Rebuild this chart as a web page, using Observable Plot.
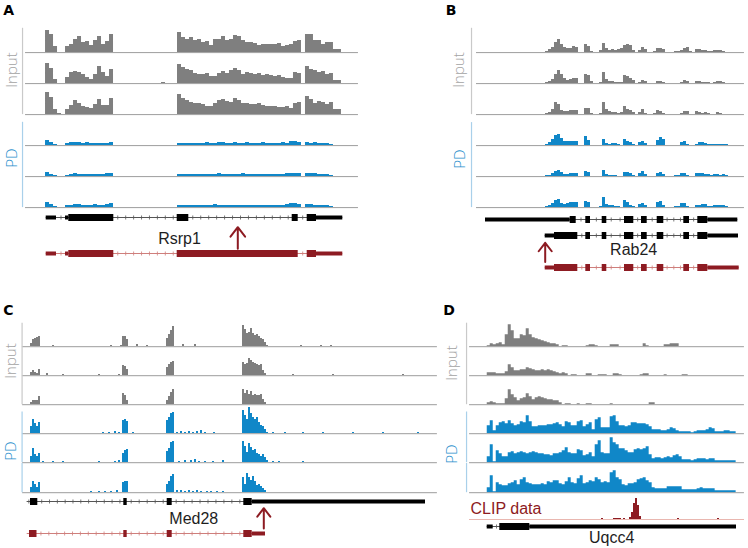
<!DOCTYPE html>
<html><head><meta charset="utf-8">
<script src="https://cdn.jsdelivr.net/npm/d3@7"></script>
<script src="https://cdn.jsdelivr.net/npm/@observablehq/plot@0.6"></script>
<style>
html,body{margin:0;padding:0;background:#fff}
#fig{position:relative;width:748px;height:548px;overflow:hidden;background:#fff}
.box{position:absolute}
.box svg{display:block;overflow:visible}
.letter{position:absolute;font:bold 14px "DejaVu Sans",sans-serif;line-height:14px;color:#000}
.vlab{position:absolute;font-family:"Open Sans",sans-serif;font-weight:300;font-size:15px;line-height:12px;white-space:nowrap;transform:translate(-50%,-50%) rotate(-90deg)}
</style></head><body><div id="fig"></div>
<script>
// ================= DATA =================
// ---- Panel A (Rsrp1): coverage, 4-unit bins starting at position 0 ----
const aInput1 = [22,18,6,0,0,6,8,13,16,10,11,7,12,16,8,11,18,0, 0,0,0,0,0,0,0,0,0,0,0,0,0,0,0, 20,15,13,15,12,13,10,11,7,13,13,16,12,13,17,16,12,10,10,9,7,8,8,8,8,9,6,7,8,11,12, 0, 18,18,12,12,8,10,10,3,3,0];
const aInput2 = [20,15,4,0,0,6,11,12,11,9,6,4,9,17,11,7,14,0, 0,0,0,0,0,0,0,0,0,0,0,1,0,0,0, 19,16,14,13,10,9,9,10,7,7,10,12,10,13,15,13,9,11,10,9,10,8,9,8,7,8,6,5,5,11,10, 0, 17,14,13,11,12,9,10,3,3,0];
const aInput3 = [22,17,5,1,0,5,9,14,11,8,7,6,10,15,9,9,16,0, 0,0,0,0,0,0,0,0,0,0,0,0,0,0,0, 20,16,14,12,11,11,10,8,8,11,14,15,13,12,16,14,11,11,10,10,11,9,8,8,8,7,7,8,6,11,12, 0, 18,15,11,13,12,10,12,5,5,0];
const aPD1 = [5,3,1,0,0,2,3,3,3,2,3,2,2,2,2,2,3,0, 0,0,0,0,0,0,0,0,0,0,0,0,0,0,0, 2,2,2,2,2,2,2,3,2,2,3,3,2,2,3,2,2,3,2,2,2,3,2,2,2,2,3,2,4,4,3, 0, 3,2,3,2,2,2,1,0,0,0];
const aPD2 = [4,2,1,0,0,1,2,3,2,2,2,2,2,2,2,3,3,0, 0,0,0,0,0,0,0,0,0,0,0,0,0,0,0, 2,2,2,2,2,2,2,2,2,2,3,2,2,2,2,2,3,2,2,2,2,2,2,2,2,2,2,3,3,3,3, 0, 3,3,3,2,2,2,1,0,0,0];
const aPD3 = [5,3,1,0,0,2,2,3,3,2,2,2,3,2,2,3,4,0, 0,0,0,0,0,0,0,0,0,0,0,0,0,0,0, 2,2,2,2,2,2,2,2,2,3,2,2,2,2,2,2,2,2,2,2,2,2,2,2,2,2,2,3,4,4,3, 0, 3,3,2,2,2,2,1,0,0,0];
const aTranscripts = [{row:"ref",start:0.7,end:297.3},{row:"pd",start:0.7,end:297.3}];
const aExons = [
  {row:"ref",start:0.7,end:11,type:"utr"},{row:"ref",start:20,end:23.3,type:"utr"},{row:"ref",start:23.3,end:68.3,type:"cds"},
  {row:"ref",start:131.7,end:143.3,type:"cds"},{row:"ref",start:246.7,end:252.7,type:"cds"},{row:"ref",start:261.7,end:271,type:"cds"},
  {row:"ref",start:271,end:297.3,type:"utr"},
  {row:"pd",start:0.7,end:11,type:"utr"},{row:"pd",start:20,end:23.3,type:"utr"},{row:"pd",start:23.3,end:68.3,type:"cds"},
  {row:"pd",start:131.7,end:252.7,type:"cds"},{row:"pd",start:261.7,end:271,type:"cds"},{row:"pd",start:271,end:297.3,type:"utr"}];
const aNames = [{name:"Rsrp1",x:134,row:"name"}];
const aArrows = [{x:192.3,from:"pd",to:"ref"}];

// ---- Panel B (Rab24): coverage, 3-unit bins starting at position 0 ----
const bInput1 = [1,3,5,10,13,8,5,4,4,6,5,0,0,8,6,1,0,0,2,9,4,2,3,2,3,4,7,8,7,2,0,2,5,3,0,0,1,4,4,3,0,0,0,1,1,2,4,5,1,0,3,3,2,2,1,1,2,2,2,1,0];
const bInput2 = [1,2,4,9,13,9,5,3,4,5,5,0,0,9,8,2,0,0,1,11,4,2,2,1,1,1,8,7,5,3,0,1,3,2,0,0,0,2,2,1,0,0,0,0,0,1,3,2,0,0,2,2,1,1,1,0,1,2,2,1,0];
const bInput3 = [1,2,5,12,10,4,3,3,4,4,4,0,0,6,6,1,0,0,1,12,5,3,2,2,1,2,8,5,4,2,0,2,5,1,0,0,1,4,3,1,0,0,0,0,0,1,3,3,0,0,3,2,1,2,1,0,0,2,1,0,0];
const bPD1 = [1,3,6,10,11,7,4,4,4,4,4,0,0,9,5,0,0,0,0,6,2,1,2,2,1,0,6,4,3,1,0,3,4,2,0,0,0,5,8,6,0,0,0,0,0,3,4,1,0,0,1,3,3,2,1,1,1,1,1,1,1];
const bPD2 = [1,1,3,5,6,4,2,2,3,3,3,0,0,5,4,0,0,0,0,6,2,1,1,1,0,0,4,4,3,1,0,3,5,2,0,0,0,3,4,2,0,0,0,1,1,3,3,1,0,0,3,3,3,2,2,1,2,2,1,2,1];
const bPD3 = [1,2,4,7,8,4,3,4,5,5,5,0,0,6,5,0,0,0,1,10,3,2,2,1,1,0,7,5,2,1,0,3,4,2,0,0,0,5,6,2,0,0,0,1,1,4,4,1,0,0,2,2,3,3,1,1,2,2,2,2,1];
const bTranscripts = [{row:"iso1",start:-60,end:192.3},{row:"iso2",start:-0.3,end:193},{row:"pd",start:-0.3,end:193.7}];
const bSharedCds = [[40.3,45],[56.7,61.3],[79,88.3],[96,101.7],[111.7,118.3],[138.3,144],[152.3,162.3]];
const bExons = [
  {row:"iso1",start:-60,end:24.7,type:"utr"},{row:"iso1",start:24.7,end:30.7,type:"cds"},{row:"iso1",start:162.3,end:192.3,type:"utr"},
  {row:"iso2",start:-0.3,end:9,type:"utr"},{row:"iso2",start:9,end:32.3,type:"cds"},{row:"iso2",start:162.3,end:193,type:"utr"},
  {row:"pd",start:-0.3,end:9,type:"utr"},{row:"pd",start:9,end:32.3,type:"cds"},{row:"pd",start:162.3,end:193.7,type:"utr"},
  ...["iso1","iso2","pd"].flatMap(row => bSharedCds.map(([start,end]) => ({row,start,end,type:"cds"})))];
const bNames = [{name:"Rab24",x:88.2,row:"name"}];
const bArrows = [{x:-0.3,from:"pd",to:"iso2"}];

// ---- Panel C (Med28): sparse coverage [position, height], 2-unit bins ----
const cInput1 = [[8,3],[10,7],[12,8],[14,9],[16,10],[30,1],[88,1],[98,1],[100,10],[102,10],[104,7],[114,2],[124,1],[144,8],[146,12],[148,16],[150,20],[160,2],[172,2],[220,21],[222,17],[224,13],[226,14],[228,18],[230,13],[232,11],[234,12],[236,10],[238,8],[240,7],[242,4],[244,1],[278,1],[298,1],[308,1]];
const cInput2 = [[8,3],[10,5],[12,3],[14,2],[16,6],[24,2],[40,1],[76,1],[96,1],[100,10],[102,9],[104,6],[144,8],[146,11],[148,13],[150,14],[220,13],[222,11],[224,12],[226,17],[228,15],[230,13],[232,12],[234,11],[236,10],[238,11],[240,5],[242,2],[270,1],[310,1],[380,1]];
const cInput3 = [[8,2],[10,4],[12,4],[14,4],[16,8],[100,11],[102,9],[104,4],[144,4],[146,8],[148,12],[150,15],[220,15],[222,11],[224,14],[226,10],[228,13],[230,9],[232,10],[234,9],[236,9],[238,10],[240,5],[242,2]];
const cPD1 = [[8,7],[10,14],[12,10],[14,7],[16,11],[80,1],[86,1],[92,2],[96,1],[100,13],[102,14],[104,12],[110,1],[144,13],[146,16],[148,20],[150,21],[154,1],[158,2],[162,1],[166,2],[170,1],[174,2],[178,3],[182,1],[191,1],[220,23],[222,18],[224,14],[226,26],[228,20],[230,16],[232,14],[234,16],[236,11],[238,8],[240,7],[242,4],[244,1],[250,1],[262,1],[280,1],[300,1],[330,1],[360,1],[395,1]];
const cPD2 = [[8,6],[10,14],[12,8],[14,6],[16,9],[20,1],[30,1],[40,1],[76,1],[92,1],[96,2],[100,9],[102,12],[104,13],[144,11],[146,14],[148,20],[150,21],[156,1],[162,2],[168,2],[172,3],[176,1],[182,1],[190,1],[200,2],[220,21],[222,16],[224,10],[226,19],[228,15],[230,12],[232,13],[234,9],[236,8],[238,6],[240,8],[242,5],[244,2],[250,1],[256,1],[280,1]];
const cPD3 = [[8,5],[10,11],[12,8],[14,5],[16,10],[68,1],[76,1],[82,1],[88,1],[94,2],[100,10],[102,11],[104,11],[144,8],[146,11],[148,16],[150,18],[154,2],[158,2],[162,1],[166,2],[170,1],[174,2],[178,1],[184,1],[188,1],[194,1],[200,1],[220,15],[222,8],[224,19],[226,15],[228,12],[230,16],[232,11],[234,7],[236,8],[238,6],[240,4],[242,2]];
const cTranscripts = [{row:"ref",start:4.7,end:403},{row:"pd",start:4.7,end:243}];
const cExons = [
  {row:"ref",start:8,end:15.3,type:"cds"},{row:"ref",start:101.3,end:104.7,type:"cds"},{row:"ref",start:144.7,end:149.7,type:"cds"},
  {row:"ref",start:221.3,end:229.7,type:"cds"},{row:"ref",start:229.7,end:403,type:"utr"},
  {row:"pd",start:7,end:14.5,type:"cds"},{row:"pd",start:101.3,end:104.7,type:"cds"},{row:"pd",start:144.7,end:149.7,type:"cds"},
  {row:"pd",start:221.3,end:229.7,type:"cds"},{row:"pd",start:229.7,end:243,type:"utr"}];
const cNames = [{name:"Med28",x:171.3,row:"name"}];
const cArrows = [{x:241.3,from:"pd",to:"ref"}];

// ---- Panel D (Uqcc4): coverage, 3-unit bins starting at position 0 ----
const dInput1 = [1,3,2,3,4,2,12,22,16,8, 8,12,11,18,12,9,8,7,6,5, 4,3,3,2,0,1,1,0,0,0, 0,0,0,1,2,2,1,0,0,0, 0,2,2,2,0,0,0,0,0,0, 0,0,3,1,0,0,0,0,0,2, 2,3,3,3,0,0,0,0,0,0, 0,0,0,0,0,0,0,0,0,0, 0,0,0,0];
const dInput2 = [3,3,3,2,2,2,4,11,8,5, 5,6,6,8,7,6,5,5,6,5, 6,5,4,3,2,3,2,0,1,1, 0,0,0,2,2,0,0,1,1,1, 0,0,2,2,1,0,0,0,0,0, 0,1,2,2,0,0,0,0,0,1, 0,0,0,0,0,1,1,0,0,0, 0,0,0,0,0,0,0,0,0,0, 0,0,0,0];
const dInput3 = [2,3,2,1,1,1,6,15,10,7, 4,6,7,11,8,5,7,8,7,6, 5,5,4,4,2,0,1,1,0,0, 1,0,0,1,1,0,0,0,0,0, 0,1,0,0,0,0,0,0,0,0, 0,0,0,0,2,2,0,0,0,0, 0,0,0,0,0,0,0,0,0,0, 0,0,0,0,0,0,0,0,0,0, 0,0,0,0];
const dPD1 = [8,13,3,8,11,12,10,13,10,8, 9,12,11,18,12,7,7,8,8,8, 9,9,10,11,9,7,12,11,8,8, 12,13,7,9,11,4,14,16,6,6, 6,17,18,12,8,8,7,8,11,11, 10,10,10,9,7,4,4,4,3,3, 4,6,5,3,2,2,2,2,1,2, 3,3,3,4,6,5,2,2,2,3, 3,2,2,0];
const dPD2 = [6,18,1,12,9,6,6,10,11,9, 10,11,10,9,10,11,10,9,9,8, 8,7,9,9,10,12,15,10,9,9, 13,12,7,8,10,6,18,22,10,9, 9,25,20,18,14,14,12,10,10,13, 14,13,14,16,8,4,5,5,4,5, 6,5,7,8,6,3,3,3,2,3, 4,4,4,3,4,4,2,2,2,2, 2,2,2,0];
const dPD3 = [5,17,1,10,8,7,7,9,10,12, 8,13,15,10,9,8,8,8,9,8, 11,10,12,12,9,8,11,15,10,9, 14,17,9,10,12,11,15,13,10,11, 10,20,22,15,13,8,7,9,9,10, 13,14,15,12,10,5,4,4,4,4, 6,6,6,6,6,3,3,3,3,3, 4,5,4,4,4,4,2,2,2,2, 2,2,2,0];
const dClip = [[114,1],[126,1],[128,1],[130,1],[132,1],[136,1],[142,2],[144,7],[146,16],[148,21],[150,14],[152,3],[190,1],[230,1]];
const dClipLabel = [{text:"CLIP data",x:-16.7}];
const dTranscripts = [{row:"ref",start:0,end:249.3}];
const dExons = [{row:"ref",start:0,end:6,type:"utr"},{row:"ref",start:12.6,end:42.6,type:"cds"},{row:"ref",start:42.6,end:249.3,type:"utr"}];
const dNames = [{name:"Uqcc4",x:124.5,row:"name"}];

const trackNames = ["Input","PD"];
const panelLetters = ["A","B","C","D"];

// ================= STYLE / LAYOUT =================
const INPUT_FILL="#7f7f7f", PD_FILL="#1087c8", BASE="#9d9d9d";
const INPUT_AXIS="#c9c9c9", PD_AXIS="#a9d0ea", INPUT_TXT="#a3a3a3", PD_TXT="#2b8fcd";
const RED="#8d1b22", RED_INTRON="#cf7f7c", BLACK="#000", BLACK_INTRON="#555";

const L = {
  A:{left:0,width:374,window:[-20,313],ml:25,mr:16,axisX:-23,base:[51.6,82.7,113.8,145,176.1,207.3],band:31.1,inTop:24.3,pdTop:23.3,bin:4,
     letter:[3.3,15],lab:[[13.3,70],[13,158.3]],
     gene:{top:210,height:50,mt:7,mb:7,rows:["ref","name","pd"],dy:3,inset:[4.7,9.7]}},
  B:{left:374,width:374,window:[-69,199],ml:102,mr:4,axisX:-74,base:[51.6,82.7,113.8,145,176.1,207.3],band:31.1,inTop:24.3,pdTop:23,bin:3,
     letter:[445.7,15],lab:[[460,70],[461.5,158.5]],
     gene:{top:211,height:64,mt:7,mb:7.7,rows:["iso1","iso2","name","pd"],dy:-2,inset:[5.6,7.3]}},
  C:{left:0,width:440,window:[0,415],ml:22,mr:3,axisX:-0.5,base:[346,375.2,404.3,433.4,462.6,491.8],band:29.2,inTop:23.5,pdTop:21.7,bin:2,
     letter:[3.3,315],lab:[[12.5,361],[12.5,451]],
     gene:{top:493,height:48,mt:7,mb:7.7,rows:["ref","name","pd"],dy:1,inset:[5,6.7]}},
  D:{left:440,width:308,window:[-17.7,257.3],ml:29,mr:4,axisX:-20.7,base:[346,375.2,404.3,433.4,462.6,492.1],band:29.2,inTop:23.5,pdTop:21.7,bin:3,
     letter:[443.3,315],lab:[[453,363],[453,454]],
     gene:{top:520,height:28,mt:5.7,mb:11,rows:["ref","name"],dy:0,inset:[0,0]}}
};
const GLYPH_SHIFT = 2.3; // glyph centre sits right of the rotated line box centre

const fig = document.getElementById("fig");
function place(node, left, top, width){
  const d=document.createElement("div"); d.className="box";
  d.style.left=left+"px"; d.style.top=top+"px"; d.style.width=width+"px";
  d.appendChild(node); fig.appendChild(d);
}
const baseStyle = {background:"transparent",overflow:"visible",fontFamily:"'Liberation Sans', Arial, sans-serif"};

function trackPlot(P, values, sparse, isPD, axisTop){
  const fill = isPD ? PD_FILL : INPUT_FILL;
  const marks = [];
  if (sparse) {
    const rows = values.map(([x,h]) => ({x1:x, x2:x+P.bin, h}));
    marks.push(Plot.rectY(rows,{x1:"x1",x2:"x2",y:"h",fill,shapeRendering:"crispEdges"}));
  } else {
    const rows = values.map((h,i) => ({x:i*P.bin, h}));
    rows.push({x:values.length*P.bin, h:values[values.length-1]});
    marks.push(Plot.areaY(rows,{x:"x",y:"h",curve:"step-after",fill}));
  }
  marks.push(Plot.ruleY([0],{stroke:BASE,strokeWidth:1}));
  marks.push(Plot.ruleX([P.axisX],{y1:0,y2:axisTop,stroke:isPD?PD_AXIS:INPUT_AXIS,strokeWidth:1.2}));
  return Plot.plot({
    width:P.width, height:P.band+1, marginLeft:P.ml, marginRight:P.mr, marginTop:0, marginBottom:1,
    x:{domain:P.window,axis:null}, y:{domain:[0,P.band],axis:null},
    style:baseStyle, marks
  });
}

function genePlot(P, transcripts, exons, names, arrows){
  const G = P.gene;
  const col = r => r==="pd" ? RED : BLACK;
  const icol = r => r==="pd" ? RED_INTRON : BLACK_INTRON;
  const ticks = [];
  for (const t of transcripts){
    const ex = exons.filter(e=>e.row===t.row).sort((a,b)=>a.start-b.start);
    let cur=t.start; const gaps=[];
    for (const e of ex){ if (e.start-cur>3) gaps.push([cur,e.start]); cur=Math.max(cur,e.end); }
    if (t.end-cur>3) gaps.push([cur,t.end]);
    for (const [g0,g1] of gaps){
      const n=Math.max(1,Math.round((g1-g0)/8)), s=(g1-g0)/n;
      for (let i=0;i<n;i++) ticks.push({row:t.row,x:g0+s*(i+0.5)});
    }
  }
  const marks = [
    Plot.ruleY(transcripts,{y:"row",x1:"start",x2:"end",stroke:d=>icol(d.row),strokeWidth:1}),
    Plot.dot(ticks,{x:"x",y:"row",symbol:"plus",r:1.4,stroke:d=>icol(d.row),strokeWidth:0.8}),
    Plot.ruleY(exons.filter(e=>e.type==="utr"),{y:"row",x1:"start",x2:"end",stroke:d=>col(d.row),strokeWidth:4}),
    Plot.ruleY(exons.filter(e=>e.type==="cds"),{y:"row",x1:"start",x2:"end",stroke:d=>col(d.row),strokeWidth:7}),
    Plot.text(names,{x:"x",y:"row",text:"name",fontSize:16,fill:"#1e1e1e",dy:G.dy})
  ];
  if (arrows) marks.push(Plot.arrow(arrows,{x1:"x",x2:"x",y1:"from",y2:"to",stroke:RED,strokeWidth:2,headLength:9,headAngle:75,insetStart:G.inset[0],insetEnd:G.inset[1]}));
  return Plot.plot({
    width:P.width, height:G.height, marginLeft:P.ml, marginRight:P.mr, marginTop:G.mt, marginBottom:G.mb,
    x:{domain:P.window,axis:null}, y:{type:"point",domain:G.rows,padding:0,axis:null},
    color:{type:"identity"}, style:baseStyle, marks
  });
}

function buildPanel(key, tracks, sparse, transcripts, exons, names, arrows, letter){
  const P = L[key];
  tracks.forEach((vals,i) => {
    const isPD = i>=3;
    const first = i===0 || i===3;
    const axisTop = first ? (isPD?P.pdTop:P.inTop) : P.band;
    place(trackPlot(P, vals, sparse, isPD, axisTop), P.left, P.base[i]-P.band, P.width);
  });
  place(genePlot(P, transcripts, exons, names, arrows), P.left, P.gene.top, P.width);
  const lt = document.createElement("div"); lt.className="letter"; lt.textContent=letter;
  lt.style.left=P.letter[0]+"px"; lt.style.top=(P.letter[1]-11.85)+"px"; fig.appendChild(lt);
  trackNames.forEach((t,j)=>{
    const v=document.createElement("div"); v.className="vlab"; v.textContent=t;
    v.style.color = j ? PD_TXT : INPUT_TXT;
    v.style.left=(P.lab[j][0]-GLYPH_SHIFT)+"px"; v.style.top=P.lab[j][1]+"px"; fig.appendChild(v);
  });
}

buildPanel("A",[aInput1,aInput2,aInput3,aPD1,aPD2,aPD3],false,aTranscripts,aExons,aNames,aArrows,panelLetters[0]);
buildPanel("B",[bInput1,bInput2,bInput3,bPD1,bPD2,bPD3],false,bTranscripts,bExons,bNames,bArrows,panelLetters[1]);
buildPanel("C",[cInput1,cInput2,cInput3,cPD1,cPD2,cPD3],true,cTranscripts,cExons,cNames,cArrows,panelLetters[2]);
buildPanel("D",[dInput1,dInput2,dInput3,dPD1,dPD2,dPD3],false,dTranscripts,dExons,dNames,null,panelLetters[3]);

// CLIP track (panel D)
{
  const P = L.D;
  const rows = dClip.map(([x,h]) => ({x1:x, x2:x+2, h}));
  const clip = Plot.plot({
    width:P.width, height:24, marginLeft:P.ml, marginRight:P.mr, marginTop:2, marginBottom:1,
    x:{domain:P.window,axis:null}, y:{domain:[0,21],axis:null}, style:baseStyle,
    marks:[
      Plot.ruleY([0],{stroke:"#e9b7b0",strokeWidth:1}),
      Plot.rectY(rows,{x1:"x1",x2:"x2",y:"h",fill:RED,shapeRendering:"crispEdges"}),
      Plot.text(dClipLabel,{x:"x",y:5.7,text:"text",textAnchor:"start",lineAnchor:"bottom",fill:RED,fontSize:16})
    ]
  });
  place(clip, P.left, 496, P.width);
}
</script></body></html>
